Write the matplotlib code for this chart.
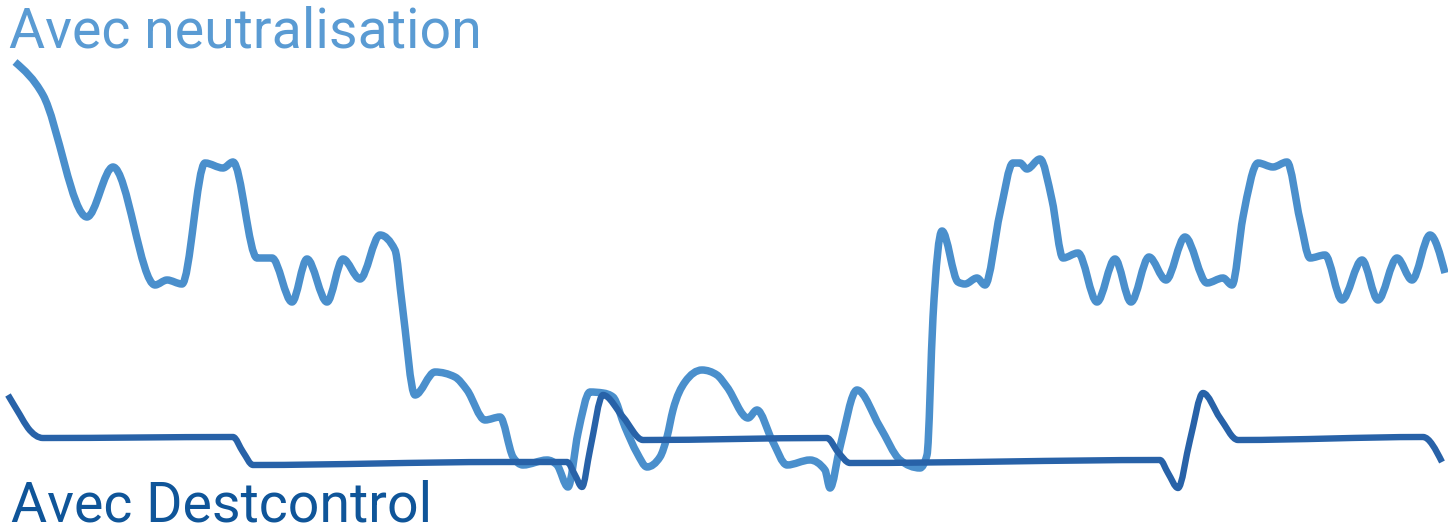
import matplotlib
matplotlib.use("Agg")
import matplotlib.pyplot as plt
from matplotlib.path import Path
from matplotlib.patches import PathPatch
import numpy as np

W, H = 1448, 528

# Series "Avec neutralisation" (x position, level measured from top)
neut_x = [15, 43, 87, 113, 155, 167, 182, 205, 223, 233, 257, 272, 292, 307, 327, 343, 360, 380, 395,
          402, 415, 435, 455, 467, 485, 500, 513, 523, 547, 557, 568, 578, 590, 603, 613, 625, 637, 647,
          660, 667, 673, 685, 702, 717, 727, 748, 757, 772, 787, 810, 825, 830, 840, 857, 880, 900, 920,
          927, 933, 942, 958, 965, 977, 985, 1000, 1013, 1020, 1027, 1040, 1052, 1063, 1078, 1097, 1115,
          1131, 1149, 1166, 1185, 1207, 1223, 1232, 1243, 1258, 1273, 1287, 1300, 1310, 1325, 1342, 1362,
          1378, 1397, 1412, 1430, 1445]
neut_y = [62, 95, 217, 167, 285, 280, 284, 163, 168, 162, 258, 258, 302, 259, 302, 259, 279, 235, 250,
          303, 395, 372, 377, 390, 420, 417, 457, 465, 460, 465, 487, 433, 392, 393, 397, 427, 453, 467,
          457, 437, 410, 382, 370, 375, 387, 418, 410, 440, 465, 460, 470, 488, 447, 390, 427, 460, 468,
          455, 317, 231, 282, 284, 278, 285, 213, 163, 163, 169, 159, 200, 258, 253, 302, 259,
          302, 257, 280, 237, 283, 278, 285, 217, 163, 167, 162, 220, 258, 255, 300, 260,
          300, 258, 280, 235, 273]

# Series "Avec Destcontrol"
dest_x = [8, 20, 28, 43, 233, 243, 253, 500, 567, 575, 582, 590, 603, 623, 643, 827, 838, 850,
          1160, 1168, 1178, 1190, 1203, 1220, 1238, 1423, 1442]
dest_y = [395, 415, 428, 438, 437, 452, 465, 462, 462, 475, 487, 450, 395, 417, 440, 438, 452, 463,
          460, 473, 488, 440, 393, 418, 440, 437, 462]

label_neut = "Avec neutralisation"
label_dest = "Avec Destcontrol"

col_neut_line = "#4a8fcc"
col_neut_text = "#5a9bd3"
col_dest_line = "#2862a8"
col_dest_text = "#0f5599"


def monotone_path(xs, ys):
    """Smooth monotone-x cubic curve through the given points (like d3.curveMonotoneX)."""
    x = np.asarray(xs, float)
    y = np.asarray(ys, float)
    n = len(x)
    h = np.diff(x)
    s = np.diff(y) / h
    t = np.zeros(n)
    for i in range(1, n - 1):
        h0, h1, s0, s1 = h[i - 1], h[i], s[i - 1], s[i]
        p = (s0 * h1 + s1 * h0) / (h0 + h1)
        t[i] = (np.sign(s0) + np.sign(s1)) * min(abs(s0), abs(s1), 0.5 * abs(p))
    t[0] = (3 * s[0] - t[1]) / 2
    t[-1] = (3 * s[-1] - t[-2]) / 2
    verts = [(x[0], y[0])]
    codes = [Path.MOVETO]
    for i in range(n - 1):
        dx = (x[i + 1] - x[i]) / 3
        verts += [(x[i] + dx, y[i] + dx * t[i]),
                  (x[i + 1] - dx, y[i + 1] - dx * t[i + 1]),
                  (x[i + 1], y[i + 1])]
        codes += [Path.CURVE4] * 3
    return Path(verts, codes)


fig = plt.figure(figsize=(W / 100, H / 100), dpi=100)
ax = fig.add_axes([0, 0, 1, 1])
ax.set_xlim(0, W)
ax.set_ylim(H, 0)
ax.axis("off")

ax.add_patch(PathPatch(monotone_path(neut_x, neut_y), fill=False, edgecolor=col_neut_line,
                       lw=5.4, joinstyle="round", capstyle="butt", zorder=1))
ax.add_patch(PathPatch(monotone_path(dest_x, dest_y), fill=False, edgecolor=col_dest_line,
                       lw=4.6, joinstyle="round", capstyle="butt", zorder=2))

ax.text(9, 48, label_neut, color=col_neut_text, fontsize=40, family="Roboto",
        va="baseline", ha="left")
ax.text(11, 522, label_dest, color=col_dest_text, fontsize=40, family="Roboto",
        va="baseline", ha="left")

fig.savefig("out.png", dpi=100)
